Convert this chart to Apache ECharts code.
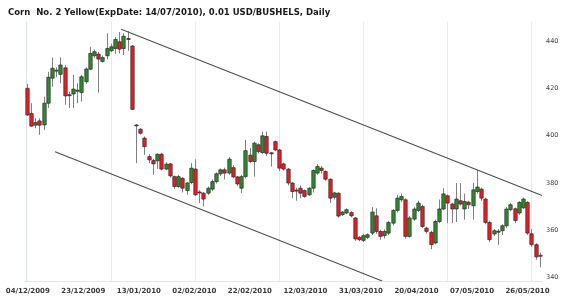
<!DOCTYPE html>
<html><head><meta charset="utf-8">
<script src="https://cdn.jsdelivr.net/npm/echarts@6/dist/echarts.min.js"></script>
<style>html,body{margin:0;padding:0;background:#fff}#c{width:570px;height:299px}</style>
</head><body><div id="c"></div>
<script>
const titleText = 'Corn  No. 2 Yellow(ExpDate: 14/07/2010), 0.01 USD/BUSHELS, Daily';
const tickLabels = ['04/12/2009','23/12/2009','13/01/2010','02/02/2010','22/02/2010','12/03/2010','31/03/2010','20/04/2010','07/05/2010','26/05/2010'];
const tickPos = [0.26,13.46,26.66,39.86,53.06,66.26,79.46,92.66,105.86,119.06];
const openV = [420.1,409.4,404.5,406.3,404.6,413.8,424.4,427.4,426.0,428.8,417.4,417.7,419.0,418.3,422.9,428.2,433.9,434.6,431.5,433.9,436.0,437.0,439.8,437.0,441.2,
438.0,404.6,402.8,399.0,391.2,389.5,389.4,392.2,385.9,388.1,382.7,378.5,382.0,376.8,380.2,385.9,376.2,375.7,375.7,377.4,380.6,383.9,385.6,384.2,386.5,
382.6,377.8,382.7,391.8,389.1,396.2,392.9,399.7,392.8,397.5,394.0,388.1,385.9,380.0,377.0,377.8,376.8,375.0,377.8,384.2,386.3,384.9,381.6,374.0,375.7,
366.6,367.3,367.5,365.2,357.0,355.7,357.0,358.8,366.1,359.5,357.7,358.8,363.0,368.4,372.9,372.9,357.4,364.7,368.4,370.1,360.9,359.1,354.6,363.7,369.0,
374.6,371.1,369.0,372.5,369.0,371.9,370.4,376.4,377.4,373.2,363.3,358.4,359.6,359.8,361.9,368.7,369.1,367.3,369.5,371.8,358.5,353.9,349.4];
const closeV = [408.8,404.1,405.6,404.5,413.8,424.8,428.6,427.8,430.0,416.9,417.1,419.8,419.3,425.0,428.3,434.9,435.6,432.5,433.1,437.0,437.7,440.8,436.7,442.2,441.0,
411.2,404.3,401.1,395.4,389.8,388.1,392.2,385.9,388.0,383.0,378.5,382.7,377.8,380.0,386.3,375.0,375.9,373.2,377.8,380.6,383.9,385.6,384.2,390.1,382.6,
379.6,382.7,393.7,389.1,396.9,393.3,400.0,392.6,392.5,394.0,386.3,385.9,380.0,376.4,376.7,375.7,374.3,377.8,385.3,387.0,385.3,381.6,373.6,375.8,366.0,
367.7,368.7,366.1,356.3,356.0,357.7,358.1,367.7,359.5,357.4,359.5,363.3,368.4,373.6,374.3,357.4,365.2,369.0,371.5,361.6,359.5,353.9,363.7,369.0,375.4,
371.5,369.0,373.2,371.1,372.2,370.8,377.1,378.3,373.6,363.3,356.0,359.8,359.4,361.9,369.0,370.8,364.1,371.8,373.2,358.8,353.9,348.7,349.1];
const highV = [422.0,413.8,407.4,407.4,416.6,427.1,433.1,429.0,433.2,430.0,418.7,425.8,422.2,425.8,429.0,437.7,436.5,435.5,434.0,443.4,439.0,441.9,444.0,443.4,444.3,
438.4,405.0,403.2,399.7,392.2,390.2,392.6,392.8,388.8,388.5,383.2,383.5,382.5,380.5,388.4,390.0,377.0,376.2,378.5,381.5,384.5,386.2,386.5,391.0,387.5,
383.0,383.5,398.3,394.8,397.5,396.8,401.8,401.8,393.2,398.0,394.5,388.6,386.3,380.5,378.0,379.0,377.3,378.3,385.8,388.0,387.2,385.3,382.0,376.3,376.0,
368.2,369.3,368.0,365.6,357.5,358.3,358.7,369.8,369.3,360.2,360.3,364.0,369.0,375.0,375.5,373.5,366.0,369.8,372.5,370.8,361.5,359.8,364.5,373.0,377.8,
375.2,371.6,380.0,380.0,375.5,372.5,380.0,385.6,378.0,373.8,364.0,360.5,360.5,362.5,369.8,371.5,369.6,372.3,373.8,372.3,360.5,354.5,350.5];
const lowV = [408.5,403.9,403.2,400.4,402.5,411.8,420.8,424.8,422.2,413.1,411.8,411.7,413.8,414.5,422.0,427.8,433.0,418.3,431.0,432.5,435.5,434.6,434.9,434.2,436.0,
411.0,388.4,400.5,391.9,388.4,383.5,386.0,385.3,385.5,382.3,377.5,378.0,376.0,375.0,379.5,374.5,371.5,370.0,375.0,376.5,379.8,383.0,381.5,383.5,382.0,
378.8,375.7,382.0,388.5,382.7,392.5,392.3,391.5,387.0,393.5,385.0,385.3,379.0,373.6,372.5,373.5,373.8,374.5,376.0,383.5,384.0,381.0,371.5,373.0,365.3,
366.0,366.8,365.5,355.5,355.3,355.0,356.3,358.0,358.5,356.0,356.5,358.0,362.0,367.5,372.0,356.5,356.8,364.0,367.8,361.0,358.5,352.0,354.0,363.0,368.5,
363.0,363.0,363.5,370.5,364.5,369.0,364.5,375.5,372.5,362.5,355.0,357.5,353.9,358.0,361.0,368.0,363.0,366.5,369.0,358.0,353.0,347.5,344.3];
const upperTrend = [[22.45, 445.1], [122.5, 374.7]];
const lowerTrend = [[6.74, 393.2], [84.5, 338.5]];

const candleData = openV.map((o, i) => [i, o, closeV[i], lowV[i], highV[i]]);
const UP = '#2e8b2e', DOWN = '#ec1c24';

const chart = echarts.init(document.getElementById('c'), null, {renderer: 'canvas'});
chart.setOption({
  animation: false,
  backgroundColor: '#ffffff',
  title: {
    text: titleText, left: 3, top: 3,
    textStyle: {fontFamily: 'DejaVu Sans', fontWeight: 'bold', fontSize: 8.5, color: '#1a1a1a'}
  },
  grid: {left: 24.6, right: 28, top: 22, bottom: 18, containLabel: false},
  xAxis: {
    type: 'value', min: -0.5, max: 122.5,
    axisLine: {show: true, onZero: false, lineStyle: {color: '#dce6ef'}},
    axisTick: {show: false},
    splitLine: {show: true, showMinLine: false, showMaxLine: false, customValues: tickPos, lineStyle: {color: '#e4edf5', width: 1}},
    axisLabel: {
      customValues: tickPos, margin: 7,
      fontFamily: 'DejaVu Sans', fontSize: 7, fontWeight: 'bold', color: '#3a3a3a',
      formatter: v => { const k = tickPos.findIndex(p => Math.abs(p - v) < 0.01); return k >= 0 ? tickLabels[k] : ''; }
    }
  },
  yAxis: {
    type: 'value', position: 'right', min: 338.5, max: 448.2, scale: true,
    axisLine: {show: true, lineStyle: {color: '#dce6ef'}},
    axisTick: {show: false},
    splitLine: {show: false},
    axisLabel: {showMinLabel: false, showMaxLabel: false, margin: 4, fontFamily: 'DejaVu Sans', fontSize: 6.5, color: '#444'}
  },
  series: [
    {
      type: 'custom', data: candleData, clip: true,
      encode: {x: 0, y: [1, 2, 3, 4]},
      renderItem: (params, api) => {
        const x = api.value(0), o = api.value(1), c = api.value(2), l = api.value(3), h = api.value(4);
        const pO = api.coord([x, o]), pC = api.coord([x, c]), pL = api.coord([x, l]), pH = api.coord([x, h]);
        const cx = Math.round(pO[0]) + 0.5;
        const top = Math.min(pO[1], pC[1]), bot = Math.max(pO[1], pC[1]);
        const bw = 3.4;
        const up = c >= o;
        return {type: 'group', children: [
          {type: 'line', shape: {x1: cx, y1: pH[1], x2: cx, y2: pL[1]}, style: {stroke: '#808080', lineWidth: 1}},
          {type: 'rect', shape: {x: cx - bw / 2, y: top, width: bw, height: Math.max(bot - top, 1)},
            style: {fill: up ? UP : DOWN, stroke: '#2a2a2a', lineWidth: 0.7}}
        ]};
      }
    },
    {type: 'line', data: upperTrend, symbol: 'none', lineStyle: {color: '#4d4d4d', width: 1.1}, silent: true},
    {type: 'line', data: lowerTrend, symbol: 'none', lineStyle: {color: '#4d4d4d', width: 1.1}, silent: true}
  ]
});
</script></body></html>
